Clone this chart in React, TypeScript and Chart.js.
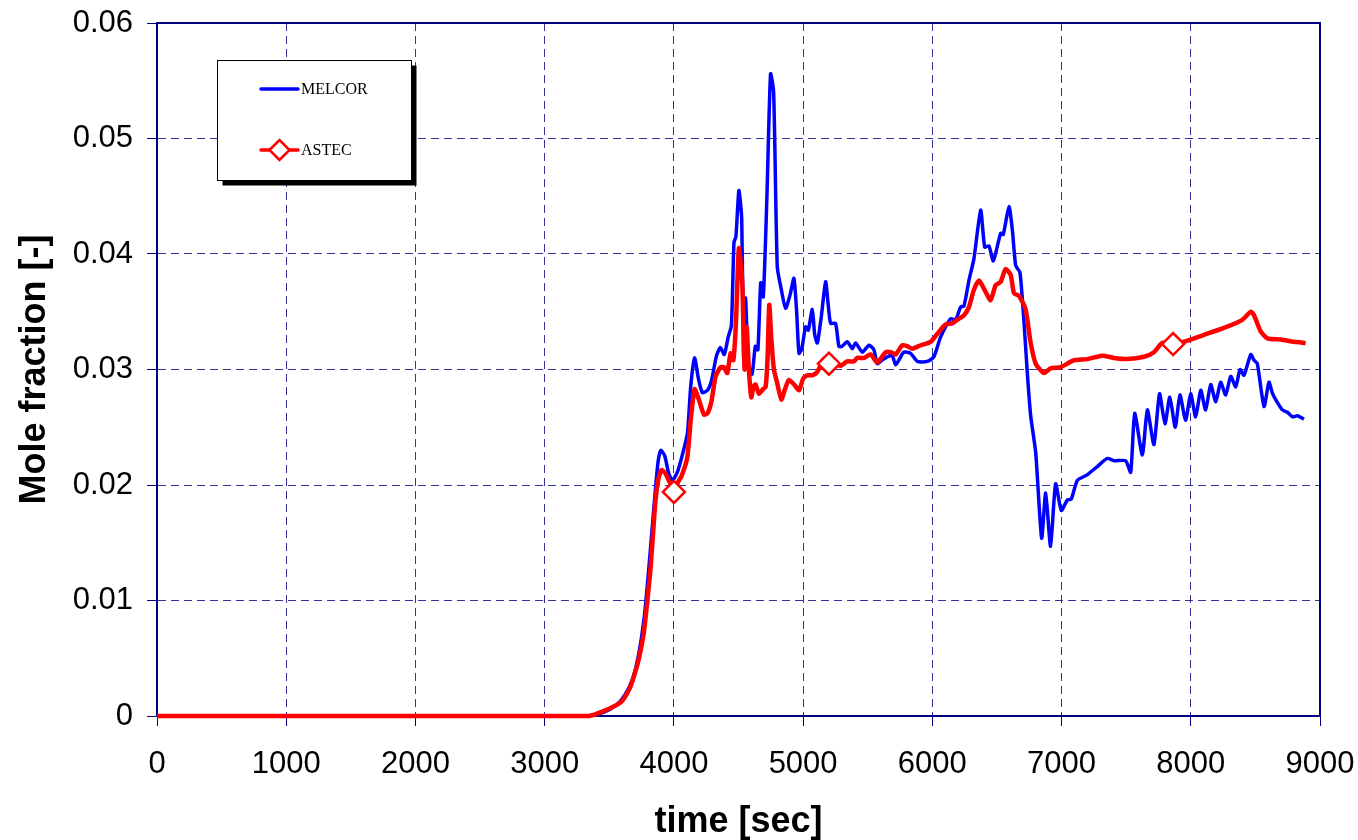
import React, { useEffect, useRef } from 'react';
import { Chart, registerables } from 'chart.js';

Chart.register(...registerables);

const melcorTime = [0, 1000, 2000, 3000, 3330, 3450, 3550, 3620, 3680, 3730, 3770, 3800, 3830, 3860, 3880, 3900, 3930, 3960, 3990, 4030, 4070, 4105, 4130, 4160, 4190, 4220, 4260, 4290, 4330, 4360, 4390, 4420, 4445, 4465, 4480, 4503, 4525, 4540, 4555, 4575, 4605, 4630, 4650, 4672, 4692, 4720, 4748, 4772, 4800, 4830, 4864, 4900, 4929, 4950, 4968, 4990, 5019, 5040, 5071, 5090, 5110, 5140, 5174, 5195, 5213, 5251, 5277, 5300, 5342, 5381, 5406, 5458, 5510, 5548, 5574, 5610, 5651, 5690, 5716, 5750, 5780, 5832, 5884, 5961, 6012, 6064, 6142, 6180, 6219, 6245, 6283, 6322, 6374, 6405, 6438, 6472, 6529, 6549, 6593, 6620, 6645, 6678, 6710, 6735, 6761, 6800, 6846, 6877, 6915, 6954, 6998, 7045, 7076, 7122, 7200, 7277, 7354, 7406, 7496, 7535, 7566, 7625, 7664, 7715, 7758, 7800, 7838, 7880, 7916, 7960, 7999, 8038, 8077, 8115, 8154, 8193, 8231, 8270, 8309, 8348, 8381, 8412, 8464, 8490, 8515, 8567, 8605, 8630, 8657, 8709, 8748, 8787, 8825, 8876];
const melcorValue = [0, 0, 0, 0, 0, 0.0003, 0.0009, 0.0018, 0.0032, 0.0055, 0.0085, 0.012, 0.016, 0.02, 0.0222, 0.023, 0.0225, 0.021, 0.0204, 0.0212, 0.0228, 0.0245, 0.0285, 0.031, 0.0292, 0.028, 0.0282, 0.029, 0.0312, 0.0319, 0.0313, 0.0328, 0.0338, 0.041, 0.0415, 0.0455, 0.043, 0.031, 0.0362, 0.0305, 0.0296, 0.032, 0.0317, 0.0375, 0.0363, 0.045, 0.0556, 0.054, 0.0389, 0.037, 0.0353, 0.0365, 0.0379, 0.035, 0.0314, 0.0318, 0.0337, 0.0334, 0.0352, 0.033, 0.0323, 0.0345, 0.0376, 0.0355, 0.034, 0.034, 0.032, 0.032, 0.0324, 0.0318, 0.0323, 0.0315, 0.0321, 0.0317, 0.0305, 0.0308, 0.0311, 0.0312, 0.0304, 0.031, 0.0315, 0.0314, 0.0307, 0.0307, 0.0311, 0.0328, 0.0344, 0.0343, 0.0354, 0.0355, 0.0377, 0.0396, 0.0438, 0.0406, 0.0407, 0.0394, 0.0418, 0.0417, 0.0441, 0.042, 0.039, 0.0384, 0.034, 0.0297, 0.026, 0.0228, 0.0154, 0.0193, 0.0147, 0.0201, 0.0178, 0.0187, 0.0188, 0.0204, 0.0209, 0.0216, 0.0223, 0.0221, 0.0221, 0.0211, 0.0262, 0.0226, 0.0265, 0.0235, 0.0279, 0.0253, 0.0276, 0.025, 0.0278, 0.0256, 0.0279, 0.0259, 0.0282, 0.0265, 0.0287, 0.0272, 0.0289, 0.0278, 0.0294, 0.0285, 0.03, 0.0295, 0.0313, 0.0308, 0.0305, 0.0268, 0.0289, 0.028, 0.0274, 0.0265, 0.0263, 0.0259, 0.026, 0.0257];

const astecTime = [0, 1000, 2000, 3000, 3340, 3450, 3590, 3650, 3690, 3730, 3767, 3795, 3820, 3840, 3858, 3880, 3905, 3935, 3960, 3980, 4000, 4030, 4060, 4104, 4130, 4160, 4190, 4232, 4260, 4290, 4323, 4361, 4387, 4413, 4439, 4460, 4480, 4503, 4529, 4547, 4563, 4580, 4599, 4615, 4632, 4658, 4690, 4710, 4725, 4738, 4755, 4774, 4800, 4831, 4860, 4890, 4930, 4968, 5000, 5032, 5070, 5110, 5149, 5175, 5200, 5240, 5290, 5340, 5393, 5419, 5471, 5522, 5574, 5610, 5639, 5680, 5716, 5768, 5810, 5845, 5910, 5987, 6039, 6103, 6155, 6193, 6245, 6283, 6322, 6361, 6413, 6451, 6490, 6529, 6567, 6606, 6632, 6670, 6722, 6761, 6800, 6864, 6915, 6993, 7096, 7200, 7316, 7406, 7509, 7638, 7715, 7780, 7863, 7947, 8102, 8257, 8399, 8464, 8489, 8541, 8593, 8696, 8799, 8889];
const astecValue = [0, 0, 0, 0, 0, 0.0004, 0.0012, 0.0022, 0.0034, 0.005, 0.0072, 0.01, 0.0129, 0.016, 0.0187, 0.0205, 0.0213, 0.021, 0.0204, 0.02, 0.0194, 0.0202, 0.0208, 0.0224, 0.0256, 0.0283, 0.0275, 0.0261, 0.0262, 0.0272, 0.0294, 0.0302, 0.0302, 0.0297, 0.0314, 0.0308, 0.034, 0.0405, 0.0375, 0.03, 0.0337, 0.03, 0.0276, 0.0285, 0.0287, 0.0279, 0.0283, 0.0285, 0.031, 0.0356, 0.0325, 0.03, 0.0288, 0.0274, 0.0283, 0.0291, 0.0287, 0.0282, 0.0292, 0.0295, 0.0295, 0.0298, 0.0307, 0.031, 0.0305, 0.0306, 0.0303, 0.0307, 0.0307, 0.031, 0.031, 0.0313, 0.0306, 0.0311, 0.0315, 0.0315, 0.0313, 0.0321, 0.032, 0.0318, 0.0321, 0.0324, 0.0331, 0.0339, 0.034, 0.0343, 0.0347, 0.0354, 0.0369, 0.0377, 0.0367, 0.036, 0.0373, 0.0376, 0.0387, 0.0382, 0.0366, 0.0364, 0.0352, 0.0323, 0.0305, 0.0297, 0.0301, 0.0302, 0.0308, 0.0309, 0.0312, 0.031, 0.0309, 0.0311, 0.0315, 0.0323, 0.0322, 0.0324, 0.033, 0.0336, 0.0343, 0.035, 0.0347, 0.0333, 0.0327, 0.0326, 0.0324, 0.0323];
const astecMarkerTimes = [4000, 5200, 7863];

const seriesLabels = ['MELCOR', 'ASTEC'];
const xTickValues = [0, 1000, 2000, 3000, 4000, 5000, 6000, 7000, 8000, 9000];
const xTickLabels = ['0', '1000', '2000', '3000', '4000', '5000', '6000', '7000', '8000', '9000'];
const yTickValues = [0, 0.01, 0.02, 0.03, 0.04, 0.05, 0.06];
const yTickLabels = ['0', '0.01', '0.02', '0.03', '0.04', '0.05', '0.06'];
const xTitle = 'time [sec]';
const yTitle = 'Mole fraction [-]';

const NAVY = '#000080';
const GRID = '#333399';
const BLUE = '#0000ff';
const RED = '#ff0000';

const zeroPadding = (s: any) => {
  s.paddingTop = 0;
  s.paddingBottom = 0;
  s.paddingLeft = 0;
  s.paddingRight = 0;
};

const framePlugin = {
  id: 'frame',
  beforeDatasetsDraw(chart: any) {
    const { ctx, chartArea: a } = chart;
    ctx.save();
    ctx.strokeStyle = NAVY;
    ctx.lineWidth = 2;
    ctx.strokeRect(a.left, a.top, a.right - a.left, a.bottom - a.top);
    ctx.restore();
  },
};

const legendBoxPlugin = {
  id: 'legendBox',
  afterDraw(chart: any) {
    const ctx = chart.ctx;
    const x = 217.5, y = 60.5, w = 194, h = 120;
    ctx.save();
    ctx.fillStyle = '#000';
    ctx.fillRect(x + 5, y + 5, w, h);
    ctx.fillStyle = '#fff';
    ctx.fillRect(x, y, w, h);
    ctx.strokeStyle = '#000';
    ctx.lineWidth = 1;
    ctx.strokeRect(x, y, w, h);
    const rows = [89, 150];
    chart.data.datasets.forEach((ds: any, i: number) => {
      const ry = rows[i];
      ctx.strokeStyle = ds.borderColor;
      ctx.lineWidth = 3.5;
      ctx.lineCap = 'round';
      ctx.beginPath();
      ctx.moveTo(261, ry);
      ctx.lineTo(298, ry);
      ctx.stroke();
      if (ds.showMarkerInLegend) {
        const cx = 279.5, r = 10;
        ctx.fillStyle = '#fff';
        ctx.lineWidth = 2.5;
        ctx.beginPath();
        ctx.moveTo(cx - r, ry);
        ctx.lineTo(cx, ry - r);
        ctx.lineTo(cx + r, ry);
        ctx.lineTo(cx, ry + r);
        ctx.closePath();
        ctx.fill();
        ctx.stroke();
      }
      ctx.fillStyle = '#000';
      ctx.font = '16px "Liberation Serif"';
      ctx.textBaseline = 'middle';
      ctx.textAlign = 'left';
      ctx.fillText(ds.label, 301, ry + 1);
    });
    ctx.restore();
  },
};

export default function App() {
  const ref = useRef<HTMLCanvasElement>(null);
  useEffect(() => {
    if (!ref.current) return;
    const melcorData = melcorTime.map((t, i) => ({ x: t, y: melcorValue[i] }));
    const astecData = astecTime.map((t, i) => ({ x: t, y: astecValue[i] }));
    const chart = new Chart(ref.current, {
      type: 'line',
      data: {
        datasets: [
          {
            label: seriesLabels[0],
            data: melcorData,
            borderColor: BLUE,
            borderWidth: 3.5,
            pointRadius: 0,
            tension: 0.2,
            order: 1,
            clip: false,
          } as any,
          {
            label: seriesLabels[1],
            data: astecData,
            borderColor: RED,
            borderWidth: 4.5,
            tension: 0.2,
            order: 0,
            clip: false,
            pointStyle: 'rectRot',
            pointRadius: (c: any) => (c.raw && astecMarkerTimes.includes(c.raw.x) ? 11 : 0),
            pointBackgroundColor: '#fff',
            pointBorderColor: RED,
            pointBorderWidth: 2.5,
            showMarkerInLegend: true,
          } as any,
        ],
      },
      options: {
        responsive: false,
        animation: false,
        devicePixelRatio: 1,
        layout: { padding: { left: 0, right: 38, top: 23, bottom: 0 } },
        plugins: { legend: { display: false }, tooltip: { enabled: false } },
        scales: {
          x: {
            type: 'linear',
            min: 0,
            max: 9000,
            afterBuildTicks: (s: any) => {
              s.ticks = xTickValues.map((v) => ({ value: v }));
            },
            afterFit: (s: any) => {
              s.height = 124;
              zeroPadding(s);
            },
            ticks: {
              autoSkip: false,
              maxRotation: 0,
              color: '#000',
              padding: 20,
              font: { family: '"Liberation Sans", Arial', size: 31 },
              callback: (_v: any, i: number) => xTickLabels[i],
            },
            grid: {
              color: GRID,
              lineWidth: 1,
              tickLength: 10,
              tickColor: NAVY,
              tickBorderDash: [],
            },
            border: { display: true, color: NAVY, width: 2, dash: [8, 5] },
            title: {
              display: true,
              text: xTitle,
              color: '#000',
              font: { family: '"Liberation Sans", Arial', size: 36, weight: 'bold' },
              padding: { top: 0, bottom: -4 },
            },
          },
          y: {
            type: 'linear',
            min: 0,
            max: 0.06,
            afterBuildTicks: (s: any) => {
              s.ticks = yTickValues.map((v) => ({ value: v }));
            },
            afterFit: (s: any) => {
              s.width = 157;
              zeroPadding(s);
            },
            ticks: {
              color: '#000',
              padding: 14,
              font: { family: '"Liberation Sans", Arial', size: 31 },
              callback: (_v: any, i: number) => yTickLabels[i],
            },
            grid: {
              color: GRID,
              lineWidth: 1,
              tickLength: 10,
              tickColor: NAVY,
              tickBorderDash: [],
            },
            border: { display: true, color: NAVY, width: 2, dash: [8, 5] },
            title: {
              display: true,
              text: yTitle,
              color: '#000',
              font: { family: '"Liberation Sans", Arial', size: 36, weight: 'bold' },
              padding: { top: 13, bottom: 0 },
            },
          },
        },
      } as any,
      plugins: [framePlugin, legendBoxPlugin],
    });
    return () => chart.destroy();
  }, []);
  return (
    <div style={{ position: 'absolute', left: 0, top: 0, width: 1358, height: 840, background: '#fff' }}>
      <canvas ref={ref} width={1358} height={840} style={{ width: 1358, height: 840, display: 'block' }} />
    </div>
  );
}
